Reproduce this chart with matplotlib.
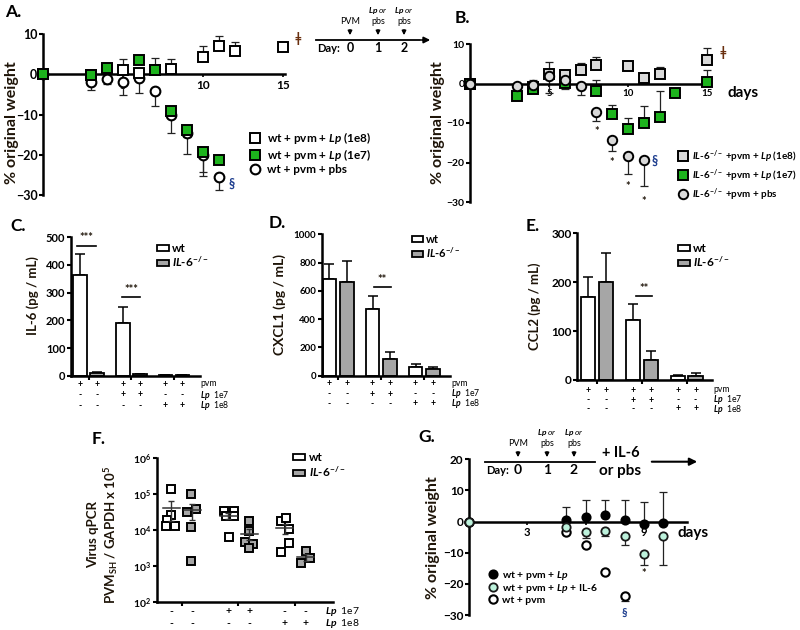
import numpy as np
import matplotlib
matplotlib.use('Agg')
import matplotlib.pyplot as plt
from matplotlib.lines import Line2D
from matplotlib.patches import Patch

plt.rcParams['font.family'] = ['Lato', 'DejaVu Sans']
plt.rcParams['font.weight'] = 'bold'
plt.rcParams['mathtext.fontset'] = 'custom'
plt.rcParams['mathtext.rm'] = 'Lato:bold'
plt.rcParams['mathtext.it'] = 'Lato:italic:bold'
plt.rcParams['mathtext.bf'] = 'Lato:bold'
plt.rcParams['axes.linewidth'] = 1.8

W, H = 800, 630
GREEN = '#1db31d'
LGREY = '#d9d9d9'
BGREY = '#a6a6a6'
MINT = '#bdf2dc'
TXT = '#1e1408'

#------------------------------------------------------------------------------
# A. wt mice, % original weight
A_day_1e8 = [0, 3, 4, 5, 6, 7, 8, 10, 11, 12, 15]
A_wt_1e8 = [0, -0.2, 1.2, 1.0, 0.4, 1.0, 1.2, 4.3, 7.0, 5.7, 6.7]
A_wt_1e8_up = [0, 0, 0, 2.8, 0, 3.0, 2.6, 2.7, 2.5, 2.3, 1.3]
A_day_1e7 = [0, 3, 4, 6, 7, 8, 9, 10, 11]
A_wt_1e7 = [0, -0.2, 1.6, 3.5, 1.0, -9.2, -13.8, -19.4, -21.2]
A_wt_1e7_dn = [0, 0, 0, 0, 0, 0, 1.7, 4.8, 0]
A_day_pbs = [0, 3, 4, 5, 6, 7, 8, 9, 10, 11]
A_wt_pbs = [0, -1.9, -1.1, -1.9, -1.0, -4.1, -10.2, -14.5, -20.0, -25.5]
A_wt_pbs_dn = [0, 2.1, 1.4, 3.3, 3.6, 3.8, 4.3, 5.3, 5.3, 3.3]

# B. IL-6-/- mice
B_day_1e8 = [0, 4, 5, 6, 7, 8, 10, 11, 12, 15]
B_ko_1e8 = [0, -1.0, 2.5, 2.1, 3.4, 4.6, 4.5, 1.3, 2.5, 5.9]
B_ko_1e8_up = [0, 0, 3.0, 1.4, 1.9, 2.0, 1.3, 0, 1.7, 3.1]
B_day_1e7 = [0, 3, 4, 6, 8, 9, 10, 11, 12, 13, 15]
B_ko_1e7 = [0, -3.1, -1.4, 0.2, -2.0, -7.6, -11.4, -9.9, -8.4, -2.3, 0.5]
B_ko_1e7_dn = [0, 0, 1.1, 0, 0, 0, 0, 0, 0, 0, 0]
B_ko_1e7_up = [0, 0, 0, 0, 3.0, 2.1, 2.7, 4.3, 6.4, 0, 2.8]
B_day_pbs = [0, 3, 4, 5, 6, 7, 8, 9, 10, 11]
B_ko_pbs = [0, -0.7, -0.3, 1.8, 0.85, -0.6, -7.3, -14.3, -18.3, -19.3]
B_ko_pbs_dn = [0, 0, 0, 4.3, 2.3, 2.4, 2.2, 2.9, 4.7, 6.7]
B_ko_pbs_up = [0, 0, 1.3, 0, 0, 0, 0, 0, 0, 0]
B_star_day = [8, 9, 10, 11]
B_star_y = [-12.2, -20, -26, -30]

# C-E. cytokines (pg/mL), groups: pvm, pvm+Lp1e7, pvm+Lp1e8
groups = [1, 2, 3]
C_wt = [362, 189, 2]
C_wt_err = [78, 60, 1]
C_ko = [8, 5, 2]
C_ko_err = [4, 2, 1]
D_wt = [682, 472, 64]
D_wt_err = [108, 92, 16]
D_ko = [663, 118, 45]
D_ko_err = [148, 47, 15]
E_wt = [170, 123, 8]
E_wt_err = [40, 32, 3]
E_ko = [200, 41, 8]
E_ko_err = [60, 19, 6]
pvm_row = ['+', '+', '+', '+', '+', '+']
lp7_row = ['-', '-', '+', '+', '-', '-']
lp8_row = ['-', '-', '-', '-', '+', '+']

# F. virus qPCR, individual mice
F_wt = [[1.38e5, 2.7e4, 1.9e4, 1.3e4, 1.3e4],
        [3.5e4, 3.5e4, 2.5e4, 2.5e4, 6.3e3],
        [1.8e4, 2.2e4, 1.07e4, 4.3e3, 2.5e3]]
F_wt_dx = [[-0.18, -0.19, -0.26, -0.28, -0.12],
           [-0.25, -0.08, -0.21, -0.08, -0.17],
           [-0.25, -0.16, -0.1, -0.1, -0.25]]
F_ko = [[1.0e5, 3.2e4, 3.8e4, 1.2e4, 1.4e3],
        [1.85e4, 9.5e3, 4.8e3, 4.2e3, 3.2e3],
        [2.6e3, 1.66e3, 1.2e3]]
F_ko_dx = [[0.16, 0.09, 0.25, 0.16, 0.16],
           [0.19, 0.19, 0.12, 0.26, 0.19],
           [0.19, 0.27, 0.11]]

# G. IL-6 rescue
G_day_lp = [0, 5, 6, 7, 8, 9, 10]
G_lp = [0, 0.5, 1.4, 2.1, 0.5, -0.7, -0.3]
G_lp_up = [0, 4.3, 5.6, 4.8, 6.4, 6.9, 9.9]
G_day_il6 = [0, 5, 6, 7, 8, 9, 10]
G_il6 = [0, -1.8, -3.2, -2.9, -4.5, -10.3, -4.6]
G_il6_dn = [0, 0, 2.1, 1.8, 3.0, 3.6, 9.5]
G_day_pvm = [0, 5, 6, 7, 8]
G_pvm = [0, -3.5, -7.5, -16.2, -24.0]
G_pvm_dn = [0, 0, 0, 0, 1.6]

#------------------------------------------------------------------------------
fig = plt.figure(figsize=(8, 6.3), dpi=100)


def box(l, t, r, b):
    return [l / W, 1 - b / H, (r - l) / W, (b - t) / H]


def weight_axes(ax, xmax, ylo, yhi, yticks, xticks, fs):
    ax.set_xlim(0, xmax)
    ax.set_ylim(ylo, yhi)
    ax.spines['bottom'].set_position(('data', 0))
    ax.spines[['top', 'right']].set_visible(False)
    ax.set_yticks(yticks)
    ax.set_xticks(xticks)
    ax.tick_params(axis='y', length=3, width=1.5, labelsize=fs, pad=1)
    ax.tick_params(axis='x', length=2, width=1.2, labelsize=fs - 0.5, pad=2)
    ax.patch.set_visible(False)


def errs(ax, x, y, lo, hi, z=2):
    ax.errorbar(x, y, yerr=[lo, hi], fmt='none', ecolor='#222222', elinewidth=0.9,
                capsize=3, capthick=0.9, zorder=z, clip_on=False)


def ylab(ax, text, x, y, fs):
    ax.text(x, y, text, transform=ax.transAxes, rotation=90, ha='center', va='center',
            fontsize=fs, color=TXT, multialignment='center')


#------------------------------------------------------------------------------
# Panel A
axA = fig.add_axes(box(43, 34, 285, 195))
weight_axes(axA, 15.1, -30, 10, [-30, -20, -10, 0, 10], [5, 10, 15], 9)
errs(axA, A_day_pbs, A_wt_pbs, A_wt_pbs_dn, [0] * len(A_wt_pbs))
errs(axA, A_day_1e8, A_wt_1e8, [0] * len(A_wt_1e8), A_wt_1e8_up)
errs(axA, A_day_1e7, A_wt_1e7, A_wt_1e7_dn, [0] * len(A_wt_1e7))
axA.plot(A_day_pbs, A_wt_pbs, 'o', ms=7, mfc='white', mec='black', mew=1.5, zorder=3, clip_on=False)
axA.plot(A_day_1e8, A_wt_1e8, 's', ms=6.8, mfc='white', mec='black', mew=1.4, zorder=4, clip_on=False)
axA.plot(A_day_1e7, A_wt_1e7, 's', ms=6.8, mfc=GREEN, mec='black', mew=1.4, zorder=5, clip_on=False)
ylab(axA, '% original weight', -0.13, 0.45, 11.5)
axA.text(11.75, -27.3, '§', fontsize=9, color='#1f3f8f', ha='center', va='center')
axA.text(15.9, 9.0, 'ǂ', fontsize=9, color='#6a3010', ha='center', va='center')
hA = [Line2D([], [], ls='none', marker='s', ms=6.8, mfc='white', mec='black', mew=1.4),
      Line2D([], [], ls='none', marker='s', ms=6.8, mfc=GREEN, mec='black', mew=1.4),
      Line2D([], [], ls='none', marker='o', ms=7, mfc='white', mec='black', mew=1.5)]
axA.legend(hA, [r'wt + pvm + $\mathit{Lp}$ (1e8)', r'wt + pvm + $\mathit{Lp}$ (1e7)', 'wt + pvm + pbs'],
           loc='upper left', bbox_to_anchor=(249 / W, 1 - 130 / H), bbox_transform=fig.transFigure,
           frameon=False, fontsize=8.5, handlelength=1.0, handletextpad=0.5, labelspacing=0.1,
           borderpad=0, borderaxespad=0)

# Panel B
axB = fig.add_axes(box(470, 44, 707, 202))
weight_axes(axB, 15, -30, 10, [-30, -20, -10, 0, 10], [5, 10, 15], 7.5)
errs(axB, B_day_1e8, B_ko_1e8, [0] * len(B_ko_1e8), B_ko_1e8_up)
errs(axB, B_day_1e7, B_ko_1e7, B_ko_1e7_dn, B_ko_1e7_up)
errs(axB, B_day_pbs, B_ko_pbs, B_ko_pbs_dn, B_ko_pbs_up)
axB.plot(B_day_1e8, B_ko_1e8, 's', ms=6.5, mfc=LGREY, mec='black', mew=1.4, zorder=3, clip_on=False)
axB.plot(B_day_1e7, B_ko_1e7, 's', ms=6.5, mfc=GREEN, mec='black', mew=1.4, zorder=4, clip_on=False)
axB.plot(B_day_pbs, B_ko_pbs, 'o', ms=6.8, mfc=LGREY, mec='black', mew=1.4, zorder=5, clip_on=False)
for d, s in zip(B_star_day, B_star_y):
    axB.text(d, s, '*', fontsize=8, color=TXT, ha='center', va='center', clip_on=False)
axB.text(11.7, -19.5, '§', fontsize=9, color='#1f3f8f', ha='center', va='center')
axB.text(16.0, 7.8, 'ǂ', fontsize=9, color='#6a3010', ha='center', va='center', clip_on=False)
axB.text(16.3, -2.3, 'days', fontsize=11, ha='left', va='center', clip_on=False)
ylab(axB, '% original weight', -0.135, 0.5, 11.5)
hB = [Line2D([], [], ls='none', marker='s', ms=6.5, mfc=LGREY, mec='black', mew=1.4),
      Line2D([], [], ls='none', marker='s', ms=6.5, mfc=GREEN, mec='black', mew=1.4),
      Line2D([], [], ls='none', marker='o', ms=6.8, mfc=LGREY, mec='black', mew=1.4)]
ko = r'$\mathit{IL}$-$\mathit{6}^{-/-}$'
axB.legend(hB, [ko + r' +pvm + $\mathit{Lp}$ (1e8)', ko + r' +pvm + $\mathit{Lp}$ (1e7)', ko + ' +pvm + pbs'],
           loc='upper left', bbox_to_anchor=(678 / W, 1 - 148 / H), bbox_transform=fig.transFigure,
           frameon=False, fontsize=7.1, handlelength=1.0, handletextpad=0.4, labelspacing=0.25,
           borderpad=0, borderaxespad=0)


#------------------------------------------------------------------------------
def bar_panel(ax, wt, wt_e, ko_v, ko_e, ylim, yticks, xlim, fs):
    g = np.array(groups)
    ax.bar(g - 0.2, wt, 0.32, color='white', edgecolor='black', lw=1.3, zorder=2)
    ax.bar(g + 0.2, ko_v, 0.32, color=BGREY, edgecolor='black', lw=1.3, zorder=2)
    ax.errorbar(g - 0.2, wt, yerr=[[0] * 3, wt_e], fmt='none', ecolor='black', elinewidth=1.1,
                capsize=3.5, capthick=1.1, zorder=1)
    ax.errorbar(g + 0.2, ko_v, yerr=[[0] * 3, ko_e], fmt='none', ecolor='black', elinewidth=1.1,
                capsize=3.5, capthick=1.1, zorder=1)
    ax.set_ylim(*ylim)
    ax.set_xlim(*xlim)
    ax.set_yticks(yticks)
    ax.set_xticks(groups)
    ax.set_xticklabels([])
    ax.spines[['top', 'right']].set_visible(False)
    ax.tick_params(axis='y', length=3, width=1.5, labelsize=fs, pad=1)
    ax.tick_params(axis='x', length=3, width=1.5)


def sign_rows(ax, xs, rows, names, offsets, name_x, fs):
    for signs, name, off in zip(rows, names, offsets):
        for x, s in zip(xs, signs):
            ax.annotate(s, (x, 0), xycoords=('data', 'axes fraction'), xytext=(0, -off * 0.72),
                        textcoords='offset points', ha='center', va='center', fontsize=fs)
        ax.annotate(name, (name_x, 0), xycoords='axes fraction', xytext=(0, -off * 0.72),
                    textcoords='offset points', ha='left', va='center', fontsize=fs,
                    fontweight='normal')


def bar_legend(ax, left, top, fs, spacing):
    hh = [Patch(facecolor='white', edgecolor='black', lw=1.3),
          Patch(facecolor=BGREY, edgecolor='black', lw=1.3)]
    ax.legend(hh, ['wt', ko], loc='upper left', bbox_to_anchor=(left / W, 1 - top / H),
              bbox_transform=fig.transFigure, frameon=False, fontsize=fs, handlelength=1.0,
              handleheight=0.45, handletextpad=0.3, labelspacing=spacing, borderpad=0,
              borderaxespad=0)


bar_x = [g + d for g in groups for d in (-0.2, 0.2)]
row_names = ['pvm', r'$\mathit{Lp}$  1e7', r'$\mathit{Lp}$  1e8']

axC = fig.add_axes(box(71, 237.3, 200, 375.7))
bar_panel(axC, C_wt, C_wt_err, C_ko, C_ko_err, (0, 500), [0, 100, 200, 300, 400, 500], (0.59, 3.61), 8)
axC.plot([0.73, 1.18], [470, 470], color='black', lw=1.2)
axC.text(0.95, 478, '***', ha='center', va='bottom', fontsize=8, color=TXT)
axC.plot([1.79, 2.21], [284, 284], color='black', lw=1.2)
axC.text(2.0, 292, '***', ha='center', va='bottom', fontsize=8, color=TXT)
sign_rows(axC, bar_x, [pvm_row, lp7_row, lp8_row], row_names, [8.3, 19.3, 30.3], 1.0, 6.2)
ylab(axC, 'IL-6 (pg / mL)', -0.295, 0.58, 9.5)
bar_legend(axC, 157, 243, 8.5, 0.05)

axD = fig.add_axes(box(321.7, 234.3, 450, 375.7))
bar_panel(axD, D_wt, D_wt_err, D_ko, D_ko_err, (0, 1000), [0, 200, 400, 600, 800, 1000], (0.62, 3.6), 7)
axD.plot([1.84, 2.23], [630, 630], color='black', lw=1.2)
axD.text(2.03, 640, '**', ha='center', va='bottom', fontsize=8, color=TXT)
sign_rows(axD, bar_x, [pvm_row, lp7_row, lp8_row], row_names, [7.6, 18.3, 27.6], 1.01, 6.2)
ylab(axD, 'CXCL1 (pg / mL)', -0.325, 0.5, 10)
bar_legend(axD, 411.7, 234, 8, 0.05)

axE = fig.add_axes(box(577.3, 233.3, 711.7, 380))
bar_panel(axE, E_wt, E_wt_err, E_ko, E_ko_err, (0, 300), [0, 100, 200, 300], (0.553, 3.56), 8.5)
axE.plot([1.87, 2.22], [172, 172], color='black', lw=1.2)
axE.text(2.04, 176, '**', ha='center', va='bottom', fontsize=8, color=TXT)
sign_rows(axE, bar_x, [pvm_row, lp7_row, lp8_row], row_names, [10, 20, 29], 1.01, 6.2)
ylab(axE, 'CCL2 (pg / mL)', -0.315, 0.5, 9.5)
bar_legend(axE, 678, 243, 8.5, 0.05)

#------------------------------------------------------------------------------
# Panel F
axF = fig.add_axes(box(156.7, 458.3, 333, 602))
for g, vals, dx in zip(groups, F_wt, F_wt_dx):
    axF.plot(g + np.array(dx), vals, 's', ms=6.3, mfc='white', mec='black', mew=1.4, zorder=3)
for g, vals, dx in zip(groups, F_ko, F_ko_dx):
    axF.plot(g + np.array(dx), vals, 's', ms=6.3, mfc=BGREY, mec='black', mew=1.4, zorder=3)
for series, off in ((F_wt, -0.18), (F_ko, 0.19)):
    for g, vals in zip(groups, series):
        m = np.mean(vals)
        sem = np.std(vals, ddof=1) / np.sqrt(len(vals))
        axF.plot([g + off - 0.15, g + off + 0.15], [m, m], color='#333333', lw=1.1, zorder=4)
        axF.errorbar([g + off], [m], yerr=[[sem], [sem]], fmt='none', ecolor='#333333',
                     elinewidth=1.0, capsize=2.5, capthick=1.0, zorder=4)
axF.set_yscale('log')
axF.set_ylim(1e2, 1e6)
axF.set_xlim(0.56, 3.67)
axF.set_yticks([1e2, 1e3, 1e4, 1e5, 1e6])
axF.set_yticklabels([r'$10^{%d}$' % p for p in range(2, 7)])
axF.minorticks_off()
axF.set_xticks(groups)
axF.set_xticklabels([])
axF.spines[['top', 'right']].set_visible(False)
axF.tick_params(axis='y', length=3, width=1.5, labelsize=7.5, pad=1)
axF.tick_params(axis='x', length=3, width=1.5)
f_x = [g + d for g in groups for d in (-0.18, 0.19)]
sign_rows(axF, f_x, [lp7_row, lp8_row], [r'$\mathit{Lp}$  1e7', r'$\mathit{Lp}$  1e8'],
          [9.7, 21.3], 0.955, 7.5)
ylab(axF, 'Virus qPCR\nPVM$_{\\mathrm{SH}}$ / GAPDH x 10$^{5}$', -0.3, 0.47, 9.5)
bar_legend(axF, 293.3, 452, 8.5, 0.15)

#------------------------------------------------------------------------------
# Panel G
axG = fig.add_axes(box(469, 459.3, 686.7, 615))
weight_axes(axG, 11.2, -30, 20, [-30, -20, -10, 0, 10, 20], [3, 6, 9], 8.5)
errs(axG, G_day_pvm, G_pvm, G_pvm_dn, [0] * len(G_pvm))
errs(axG, G_day_lp, G_lp, [0] * len(G_lp), G_lp_up)
errs(axG, G_day_il6, G_il6, G_il6_dn, [0] * len(G_il6))
axG.plot(G_day_pvm, G_pvm, 'o', ms=6, mfc='white', mec='black', mew=1.5, zorder=3, clip_on=False)
axG.plot(G_day_lp, G_lp, 'o', ms=6, mfc='black', mec='black', mew=1.3, zorder=4, clip_on=False)
axG.plot(G_day_il6, G_il6, 'o', ms=6, mfc=MINT, mec='#1a1a1a', mew=1.3, zorder=5, clip_on=False)
axG.text(9, -16.8, '*', fontsize=8, color=TXT, ha='center', va='center')
axG.text(8, -29.3, '§', fontsize=8, color='#1f3f8f', ha='center', va='center', clip_on=False)
axG.text(10.75, -3.6, 'days', fontsize=11, ha='left', va='center', clip_on=False)
ylab(axG, '% original weight', -0.165, 0.5, 11.5)
hG = [Line2D([], [], ls='none', marker='o', ms=6, mfc='black', mec='black', mew=1.3),
      Line2D([], [], ls='none', marker='o', ms=6, mfc=MINT, mec='#1a1a1a', mew=1.3),
      Line2D([], [], ls='none', marker='o', ms=6, mfc='white', mec='black', mew=1.5)]
axG.legend(hG, [r'wt + pvm + $\mathit{Lp}$', r'wt + pvm + $\mathit{Lp}$ + IL-6', 'wt + pvm'],
           loc='upper left', bbox_to_anchor=(488.6 / W, 1 - 568.5 / H), bbox_transform=fig.transFigure,
           frameon=False, fontsize=7.5, handlelength=0.9, handletextpad=0.4, labelspacing=0.05,
           borderpad=0, borderaxespad=0)

#------------------------------------------------------------------------------
# Overlay: panel letters and dosing timelines (pixel coordinates)
ov = fig.add_axes([0, 0, 1, 1])
ov.set_xlim(0, W)
ov.set_ylim(H, 0)
ov.axis('off')
for lab, x, y in (('A.', 5, 12), ('B.', 455, 18), ('C.', 10, 226), ('D.', 269, 223),
                  ('E.', 526, 226), ('F.', 92, 439), ('G.', 418, 437)):
    ov.text(x, y, lab, fontsize=12.5, ha='left', va='center', color='black')


def timeline(x0, x1, y, xs, arrow_end=None, fs=9, dfs=8):
    ov.plot([x0, x1], [y, y], color='black', lw=1.3)
    if arrow_end is not None:
        ov.annotate('', xy=(arrow_end, y), xytext=(x1 - 1, y),
                    arrowprops=dict(arrowstyle='-|>', lw=1.3, color='black', mutation_scale=9))
    ov.text(x0 + 1, y + 9, 'Day:', fontsize=dfs, ha='left', va='center')
    tops = ['PVM', 'pbs', 'pbs']
    for i, x in enumerate(xs):
        ov.text(x, y + 8, str(i), fontsize=fs, ha='center', va='center')
        ov.annotate('', xy=(x, y - 2), xytext=(x, y - 13),
                    arrowprops=dict(arrowstyle='-|>', lw=1.1, color='black', mutation_scale=6))
        ov.text(x, y - 19, tops[i], fontsize=6.5, ha='center', va='center', fontweight='normal')
        if i > 0:
            ov.text(x, y - 29, r'$\mathit{Lp}$ or', fontsize=6, ha='center', va='center',
                    fontweight='normal', style='italic')


timeline(316, 420, 40, [350, 378, 404], arrow_end=433, fs=9, dfs=8)
timeline(485, 595, 462, [518, 547, 574], fs=10, dfs=8)
ov.text(621, 453, '+ IL-6', fontsize=10.5, ha='center', va='center')
ov.text(620, 471, 'or pbs', fontsize=11, ha='center', va='center')
ov.annotate('', xy=(700, 461.7), xytext=(649, 461.7),
            arrowprops=dict(arrowstyle='-|>', lw=1.5, color='black', mutation_scale=11))

fig.savefig('out.png', dpi=100)
